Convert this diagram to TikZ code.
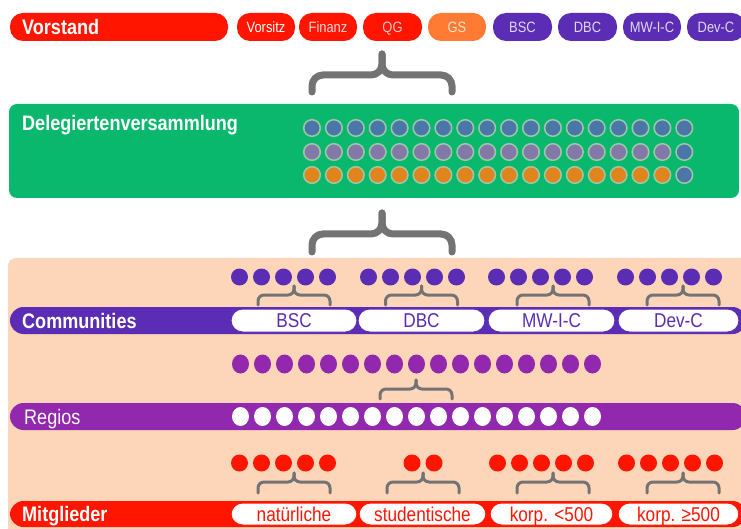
\documentclass[tikz,border=0pt]{standalone}
\usepackage{fontspec}
\setmainfont{Liberation Sans}
\newfontfamily\cf[FakeStretch=0.86]{Liberation Sans}
\definecolor{vred}{HTML}{FF1500}
\definecolor{vorange}{HTML}{FF7A33}
\definecolor{vpurple}{HTML}{5B2DB5}
\definecolor{vmagenta}{HTML}{9228AE}
\definecolor{vgreen}{HTML}{0AB86D}
\definecolor{vpeach}{HTML}{FDD5B9}
\definecolor{bracegrey}{HTML}{737373}
\definecolor{dblue}{HTML}{4A76A8}
\definecolor{dlilac}{HTML}{8478A8}
\definecolor{dorange}{HTML}{E0841E}
\definecolor{dedge}{HTML}{9CC8A8}
\newcommand\gbrace[8]{%
  \draw[bracegrey,line width=#7pt,line cap=round,rounded corners=#8pt] (#1,#4) -- (#1,#5) -- (#3,#5) -- (#3,#6);
  \draw[bracegrey,line width=#7pt,line cap=round,rounded corners=#8pt] (#2,#4) -- (#2,#5) -- (#3,#5) -- (#3,#6);}
\tikzset{
  toppill/.style={rectangle,rounded corners=13pt,minimum height=28pt,inner sep=0pt,
    text height=10.7pt,text depth=0pt,font=\cf\fontsize{15}{17}\selectfont},
  barlbl/.style={anchor=west,inner sep=0pt,text=white,text height=15pt,text depth=0pt,
    font=\cf\bfseries\fontsize{21}{24}\selectfont},
  bar/.style={rectangle,rounded corners=13.5pt,minimum height=27pt,inner sep=0pt},
  wpill/.style={rectangle,rounded corners=11.5pt,minimum height=23pt,inner sep=0pt,fill=white,
    text height=14.3pt,text depth=0pt,line width=1pt,font=\cf\fontsize{20}{22}\selectfont},
}
\begin{document}
\begin{tikzpicture}[x=1pt,y=-1pt]
\useasboundingbox (0,0) rectangle (741,529);
\clip (0,0) rectangle (741,529);
% ---- Vorstand row
\node[toppill,fill=vred,minimum width=218pt] (vorstand) at (119,27) {};
\node[barlbl] (vorstandlbl) at (22,27) {Vorstand};
\node[toppill,fill=vred,text=white,minimum width=58pt] (vorsitz) at (266,27) {Vorsitz};
\node[toppill,fill=vred,text=red!15!white,minimum width=58pt] (finanz) at (328,27) {Finanz};
\node[toppill,fill=vred,text=red!22!white,minimum width=59pt] (qg) at (392.5,27) {QG};
\node[toppill,fill=vorange,text=orange!20!white,minimum width=58pt] (gs) at (457,27) {GS};
\node[toppill,fill=vpurple,text=vpurple!18!white,minimum width=59pt] (bsct) at (522.5,27) {BSC};
\node[toppill,fill=vpurple,text=vpurple!18!white,minimum width=59pt] (dbct) at (587.5,27) {DBC};
\node[toppill,fill=vpurple,text=vpurple!18!white,minimum width=58pt] (mwict) at (652,27) {MW-I-C};
\node[toppill,fill=vpurple,text=vpurple!18!white,minimum width=58pt] (devct) at (716,27) {Dev-C};
% top brace
\gbrace{312}{452}{382}{92}{75}{54}{7}{11}
% ---- Delegiertenversammlung
\node[rectangle,rounded corners=8pt,fill=vgreen,minimum width=730pt,minimum height=94pt,inner sep=0pt] (dv) at (374,151) {};
\node[barlbl] (dvlbl) at (22,123) {Delegiertenversammlung};
\foreach \i in {0,...,17} {
  \filldraw[fill=dblue,draw=dedge,line width=1.5pt] ({312+21.9*\i},128) circle (8.3);
}
\foreach \i in {0,...,16} {
  \filldraw[fill=dlilac,draw=dedge,line width=1.5pt] ({312+21.9*\i},152) circle (8.3);
  \filldraw[fill=dorange,draw=dedge,line width=1.5pt] ({312+21.9*\i},175) circle (8.3);
}
\filldraw[fill=dblue,draw=dedge,line width=1.5pt] ({312+21.9*17},152) circle (8.3);
\filldraw[fill=dblue,draw=dedge,line width=1.5pt] ({312+21.9*17},175) circle (8.3);
% lower brace
\gbrace{312}{452}{382}{252}{234}{213}{7}{11}
% ---- peach area
\fill[vpeach,rounded corners=8pt] (8,258) rectangle (760,545);
% ---- Communities
\foreach \s in {239.5,368.5,496.5,625.5} {
  \foreach \i in {0,...,4} { \fill[vpurple] ({\s+22*\i},277) circle (8.5); }
}
\foreach \c in {294,421.5,553,683} { \gbrace{\c-36}{\c+36}{\c}{305}{295}{286}{3}{6} }
\node[bar,fill=vpurple,minimum width=736pt] (combar) at (378,320.5) {};
\node[barlbl] (comlbl) at (22,320.5) {Communities};
\node[wpill,draw=vpurple,text=vpurple,minimum width=126pt] (bsc) at (294,320.5) {BSC};
\node[wpill,draw=vpurple,text=vpurple,minimum width=127pt] (dbc) at (421.5,320.5) {DBC};
\node[wpill,draw=vpurple,text=vpurple,minimum width=127pt] (mwic) at (551.5,320.5) {MW-I-C};
\node[wpill,draw=vpurple,text=vpurple,minimum width=121pt] (devc) at (678.5,320.5) {Dev-C};
% ---- Regios
\foreach \i in {0,...,16} { \fill[vmagenta] ({240.5+22*\i},364) ellipse (8.5 and 9.5); }
\gbrace{380}{452}{416}{399}{389}{380}{3}{6}
\node[bar,fill=vmagenta,minimum width=736pt] (regbar) at (378,416.5) {};
\node[barlbl,font=\cf\fontsize{21}{24}\selectfont] (reglbl) at (24,416.5) {Regios};
\foreach \i in {0,...,16} { \fill[white] ({240.5+22*\i},416.5) ellipse (8.5 and 9.5); }
% ---- Mitglieder
\foreach \s in {239.5,497.5,626.5} {
  \foreach \i in {0,...,4} { \fill[vred] ({\s+22*\i},463) circle (8.5); }
}
\fill[vred] (412,463) circle (8.5);
\fill[vred] (434,463) circle (8.5);
\foreach \c in {294,423,553,683} { \gbrace{\c-36}{\c+36}{\c}{493}{482}{473}{3}{6} }
\node[bar,fill=vred,minimum width=736pt,minimum height=26pt] (mitbar) at (378,514) {};
\node[barlbl] (mitlbl) at (22,514) {Mitglieder};
\node[wpill,draw=vred,text=vred,minimum width=126pt,minimum height=22pt] (nat) at (294,514) {natürliche};
\node[wpill,draw=vred,text=vred,minimum width=127pt,minimum height=22pt] (stud) at (422.5,514) {studentische};
\node[wpill,draw=vred,text=vred,minimum width=123pt,minimum height=22pt] (kleiner) at (551.5,514) {korp. <500};
\node[wpill,draw=vred,text=vred,minimum width=121pt,minimum height=22pt] (groesser) at (678.5,514) {korp. ≥500};
\end{tikzpicture}
\end{document}
